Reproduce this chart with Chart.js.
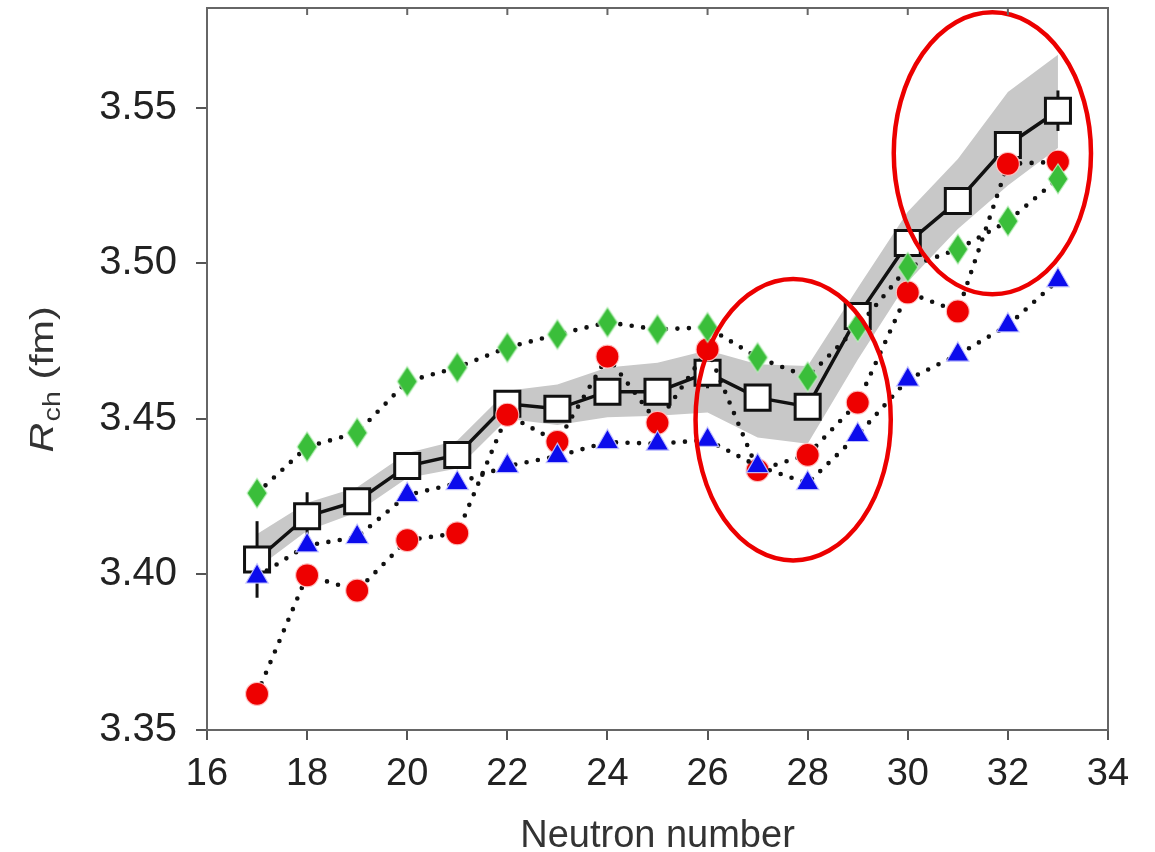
<!DOCTYPE html>
<html>
<head>
<meta charset="utf-8">
<script src="https://cdn.jsdelivr.net/npm/chart.js@4.4.0/dist/chart.umd.min.js"></script>
<style>
  html, body { margin: 0; padding: 0; background: #fff; }
</style>
</head>
<body>
<canvas id="myChart" width="1155" height="852"></canvas>
<script>
// values
const neutrons  = [17, 18, 19, 20, 21, 22, 23, 24, 25, 26, 27, 28, 29, 30, 31, 32, 33];
const expRch    = [3.4048, 3.4187, 3.4235, 3.4348, 3.4384, 3.4548, 3.4532, 3.4587, 3.4587, 3.4648, 3.4568, 3.4539, 3.4830, 3.5065, 3.5200, 3.5380, 3.5490];
const expErr    = [0.0123, 0.0077, 0.003, 0.003, 0.003, 0.003, 0.003, 0.003, 0.003, 0.005, 0.003, 0.003, 0.004, 0.003, 0.003, 0.003, 0.0065];
const bandHigh  = [3.413, 3.423, 3.428, 3.439, 3.443, 3.459, 3.461, 3.4665, 3.468, 3.472, 3.4675, 3.467, 3.492, 3.5165, 3.5335, 3.555, 3.567];
const bandLow   = [3.402, 3.414, 3.420, 3.431, 3.434, 3.450, 3.448, 3.4505, 3.451, 3.452, 3.444, 3.442, 3.469, 3.494, 3.511, 3.525, 3.537];
const redCalc   = [3.3616, 3.3997, 3.3948, 3.4110, 3.4132, 3.4513, 3.4426, 3.4700, 3.4487, 3.4723, 3.4335, 3.4384, 3.4552, 3.4906, 3.4845, 3.5319, 3.5326];
const blueCalc  = [3.3993, 3.4093, 3.4120, 3.4255, 3.4293, 3.4348, 3.4380, 3.4425, 3.4420, 3.4432, 3.4348, 3.4293, 3.4448, 3.4626, 3.4706, 3.4800, 3.4945];
const greenCalc = [3.4261, 3.4410, 3.4455, 3.4620, 3.4665, 3.4729, 3.4771, 3.4810, 3.4787, 3.4794, 3.4697, 3.4635, 3.4795, 3.4987, 3.5045, 3.5135, 3.5271];

const xTickValues = [16, 18, 20, 22, 24, 26, 28, 30, 32, 34];
const yTickValues = [3.35, 3.40, 3.45, 3.50, 3.55];

// red ellipses drawn on the figure (centre and half-axes in data units)
const ellipseN  = [27.71, 31.69];
const ellipseR  = [3.4497, 3.5353];
const ellipseDN = [1.95, 1.97];
const ellipseDR = [0.0452, 0.0453];

const FONT = "'Liberation Sans', Arial, Helvetica, sans-serif";

const pts = (vals) => neutrons.map((n, i) => ({x: n, y: vals[i]}));

function makeDiamond(w, h, fill) {
    const c = document.createElement('canvas');
    c.width = w + 4;
    c.height = h + 4;
    const g = c.getContext('2d');
    g.beginPath();
    g.moveTo(c.width / 2, 2);
    g.lineTo(c.width - 2, c.height / 2);
    g.lineTo(c.width / 2, c.height - 2);
    g.lineTo(2, c.height / 2);
    g.closePath();
    g.fillStyle = fill;
    g.fill();
    g.strokeStyle = 'rgba(190,240,190,0.9)';
    g.lineWidth = 1.2;
    g.stroke();
    return c;
}

const dotted = {
    showLine: true,
    borderColor: '#111',
    borderWidth: 4.6,
    borderDash: [0, 11.5],
    borderCapStyle: 'round',
};

const extras = {
    id: 'extras',
    beforeDatasetDraw(chart, args) {
        if (args.index !== 3) return;
        const {ctx, scales: {x, y}} = chart;
        ctx.save();
        ctx.strokeStyle = '#111';
        ctx.lineWidth = 3;
        neutrons.forEach((n, i) => {
            const px = x.getPixelForValue(n);
            ctx.beginPath();
            ctx.moveTo(px, y.getPixelForValue(expRch[i] + expErr[i]));
            ctx.lineTo(px, y.getPixelForValue(expRch[i] - expErr[i]));
            ctx.stroke();
        });
        ctx.restore();
    },
    afterDatasetsDraw(chart) {
        const {ctx, scales: {x, y}} = chart;
        ctx.save();
        ctx.strokeStyle = 'rgb(236,0,0)';
        ctx.lineWidth = 4.5;
        ellipseN.forEach((n, i) => {
            const cx = x.getPixelForValue(n);
            const cy = y.getPixelForValue(ellipseR[i]);
            const rx = Math.abs(x.getPixelForValue(n + ellipseDN[i]) - cx);
            const ry = Math.abs(y.getPixelForValue(ellipseR[i] + ellipseDR[i]) - cy);
            ctx.beginPath();
            ctx.ellipse(cx, cy, rx, ry, 0, 0, Math.PI * 2);
            ctx.stroke();
        });
        ctx.restore();
    },
    afterDraw(chart) {
        const {ctx, chartArea: a, scales: {x}} = chart;
        ctx.save();
        // top and right frame, inward ticks on top
        ctx.strokeStyle = '#666';
        ctx.lineWidth = 2;
        ctx.beginPath();
        ctx.moveTo(a.left, a.top);
        ctx.lineTo(a.right, a.top);
        ctx.lineTo(a.right, a.bottom);
        ctx.stroke();
        xTickValues.forEach(v => {
            const px = x.getPixelForValue(v);
            ctx.beginPath();
            ctx.moveTo(px, a.top);
            ctx.lineTo(px, a.top + 7);
            ctx.stroke();
        });
        // y axis title: R_ch (fm)
        ctx.translate(41, 380);
        ctx.rotate(-Math.PI / 2);
        ctx.scale(1.25, 1);
        ctx.fillStyle = '#333';
        ctx.textBaseline = 'alphabetic';
        const f1 = 'italic 33px ' + FONT;
        const f2 = '23px ' + FONT;
        const f3 = '33px ' + FONT;
        ctx.font = f1; const w1 = ctx.measureText('R').width;
        ctx.font = f2; const w2 = ctx.measureText('ch').width;
        ctx.font = f3; const w3 = ctx.measureText(' (fm)').width;
        let sx = -(w1 + w2 + w3) / 2;
        const base = 11.5;
        ctx.font = f1; ctx.fillText('R', sx, base); sx += w1 + 1;
        ctx.font = f2; ctx.fillText('ch', sx, base + 7); sx += w2;
        ctx.font = f3; ctx.fillText(' (fm)', sx, base);
        ctx.restore();
    }
};

const data = {
    datasets: [
        {
            ...dotted,
            label: 'green',
            data: pts(greenCalc),
            pointStyle: makeDiamond(20, 30, 'rgb(58,190,58)'),
            pointRadius: 15,
            order: 1,
        },
        {
            ...dotted,
            label: 'blue',
            data: pts(blueCalc),
            pointStyle: 'triangle',
            pointRadius: 13,
            pointBackgroundColor: 'rgb(12,12,236)',
            pointBorderColor: 'rgba(200,200,255,0.9)',
            pointBorderWidth: 1.2,
            order: 2,
        },
        {
            ...dotted,
            label: 'red',
            data: pts(redCalc),
            pointStyle: 'circle',
            pointRadius: 11.5,
            pointBackgroundColor: 'rgb(238,0,0)',
            pointBorderColor: 'rgba(255,200,200,0.9)',
            pointBorderWidth: 1.2,
            order: 3,
        },
        {
            label: 'experiment',
            data: pts(expRch),
            showLine: true,
            borderColor: '#111',
            borderWidth: 3.5,
            pointStyle: 'rect',
            pointRadius: 17.7,
            pointBackgroundColor: '#fff',
            pointBorderColor: '#111',
            pointBorderWidth: 3,
            order: 4,
        },
        {
            label: 'band low',
            data: pts(bandLow),
            showLine: true,
            borderWidth: 0,
            borderColor: 'rgba(0,0,0,0)',
            pointRadius: 0,
            fill: false,
            order: 6,
        },
        {
            label: 'band high',
            data: pts(bandHigh),
            showLine: true,
            borderWidth: 0,
            borderColor: 'rgba(0,0,0,0)',
            pointRadius: 0,
            fill: 4,
            backgroundColor: 'rgb(200,200,200)',
            order: 5,
        }
    ]
};

const config = {
    type: 'scatter',
    data: data,
    options: {
        responsive: false,
        animation: false,
        devicePixelRatio: 1,
        layout: { autoPadding: false, padding: { top: 8, right: 47, left: 0, bottom: 0 } },
        plugins: {
            legend: { display: false },
            tooltip: { enabled: false }
        },
        scales: {
            x: {
                type: 'linear',
                min: 16,
                max: 34,
                afterBuildTicks: s => { s.ticks = xTickValues.map(v => ({value: v})); },
                afterFit: s => { s.height = 852 - 730; s.paddingLeft = 0; s.paddingRight = 0; },
                grid: { drawOnChartArea: false, drawTicks: true, tickLength: 10, color: '#555', lineWidth: 2 },
                border: { display: true, color: '#666', width: 2 },
                ticks: { font: { family: FONT, size: 38 }, color: '#222', padding: 12, maxRotation: 0, autoSkip: false },
                title: { display: true, text: 'Neutron number', color: '#333', font: { family: FONT, size: 38, lineHeight: 1 }, padding: { top: 0, bottom: -4 } }
            },
            y: {
                type: 'linear',
                min: 3.35,
                max: 3.582,
                afterBuildTicks: s => { s.ticks = yTickValues.map(v => ({value: v})); },
                afterFit: s => { s.width = 207; s.paddingTop = 0; s.paddingBottom = 0; },
                grid: { drawOnChartArea: false, drawTicks: true, tickLength: 11, color: '#555', lineWidth: 2 },
                border: { display: true, color: '#666', width: 2 },
                ticks: { font: { family: FONT, size: 40 }, color: '#222', padding: 19, callback: v => v.toFixed(2) }
            }
        }
    },
    plugins: [extras]
};

const myChart = new Chart(document.getElementById('myChart'), config);
</script>
</body>
</html>
